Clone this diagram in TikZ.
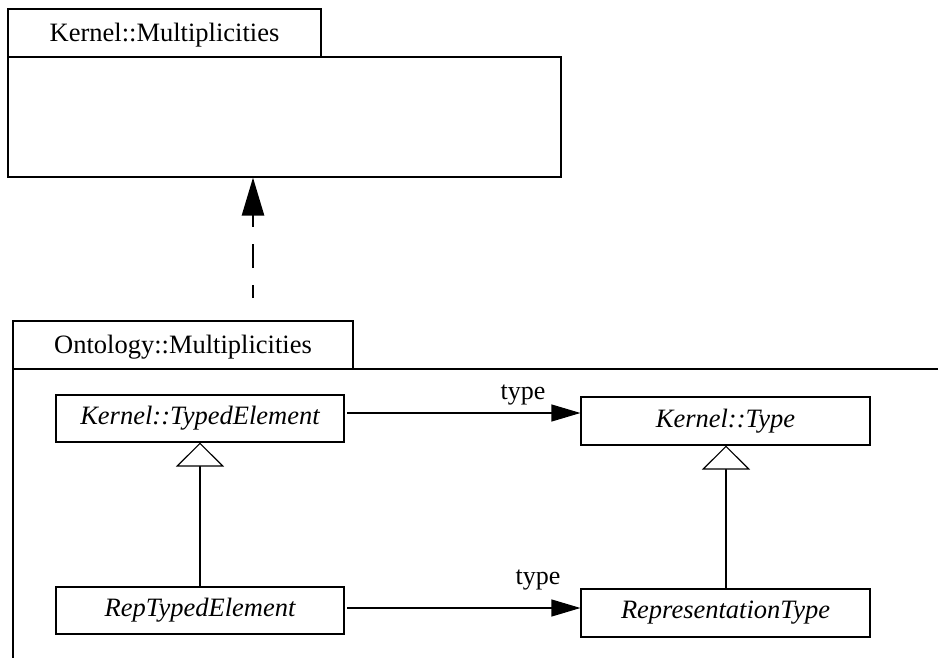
\documentclass[tikz,border=0pt]{standalone}
\usepackage{fontspec}
\setmainfont{Liberation Serif}
\usetikzlibrary{arrows.meta}
\begin{document}
\begin{tikzpicture}[x=1pt,y=-1pt,
 box/.style={draw, line width=1.1pt, inner sep=0pt, font=\fontsize{26.5}{30}\selectfont},
 cls/.style={box, font=\fontsize{26.5}{30}\selectfont\itshape},
 lbl/.style={inner sep=0pt, font=\fontsize{26}{30}\selectfont},
 assoc/.style={line width=1.1pt, shorten <=3pt, -{Triangle[length=29pt,width=17pt]}},
 gen/.style={line width=1.1pt, -{Triangle[open, length=24pt, width=48pt, fill=white]}},
 dep/.style={line width=2.6pt, dash pattern=on 24pt off 17pt, dash phase=11pt, -{Triangle[length=38pt,width=22pt]}}]
\useasboundingbox (0,0) rectangle (938,658);
% Kernel::Multiplicities package
\node[box, minimum width=313pt, minimum height=48pt, text depth=0.3ex] (ktab) at (164.5,33) {Kernel::Multiplicities};
\node[box, minimum width=553pt, minimum height=120pt] (kbody) at (284.5,117) {};
% Ontology::Multiplicities package
\node[box, minimum width=340pt, minimum height=48pt, text depth=0.3ex] (otab) at (183,345) {Ontology::Multiplicities};
\coordinate (oc) at (13,369);
\coordinate (ore) at (938,369);
\coordinate (obe) at (13,658);
\draw[line width=1.1pt] (ore) -- (oc) -- (obe);
% classes
\node[cls, minimum width=288pt, minimum height=47pt] (kte) at (200,418.5) {Kernel::TypedElement};
\node[cls, minimum width=289pt, minimum height=48pt] (kt) at (725.5,421) {Kernel::Type};
\node[cls, minimum width=288pt, minimum height=47pt] (rte) at (200,610.5) {RepTypedElement};
\node[cls, minimum width=289pt, minimum height=48pt] (rt) at (725.5,613) {RepresentationType};
% associations
\coordinate (a1) at (344,413);
\coordinate (a2) at (344,608);
\draw[assoc] (a1) -- (a1 -| kt.west);
\draw[assoc] (a2) -- (a2 -| rt.west);
\node[lbl] (t1) at (523,395) {type};
\node[lbl] (t2) at (538,580) {type};
% generalizations
\coordinate (g2) at (726,0);
\draw[gen] (rte.north) -- (kte.south);
\draw[gen] (g2 |- rt.north) -- (g2 |- kt.south);
% dependency
\coordinate (dstart) at (253,298);
\draw[dep] (dstart) -- (dstart |- kbody.south);
\end{tikzpicture}
\end{document}
